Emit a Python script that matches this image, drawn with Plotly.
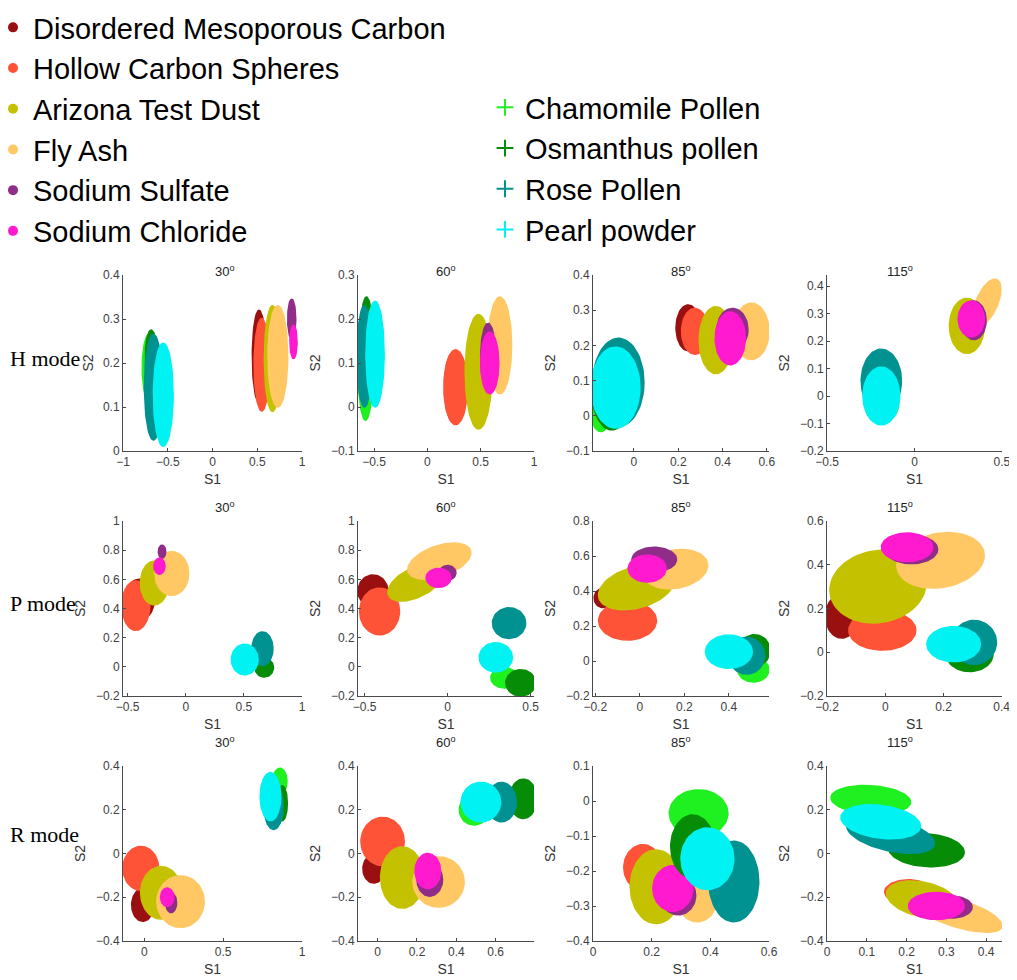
import numpy as np
import plotly.graph_objects as go

# materials in legend / drawing order
materials = ["Disordered Mesoporous Carbon", "Hollow Carbon Spheres", "Arizona Test Dust",
             "Fly Ash", "Sodium Sulfate", "Sodium Chloride",
             "Chamomile Pollen", "Osmanthus pollen", "Rose Pollen", "Pearl powder"]
modes = ["H mode", "P mode", "R mode"]
angles = ["30", "60", "85", "115"]

# cluster centre / half-spread / tilt, one row per panel (H30..H115, P30..P115, R30..R115)
s1_center = [
    [0.52, 0.55, 0.67, 0.73, 0.885, 0.905, -0.71, -0.685, -0.66, -0.55],
    [0.25, 0.265, 0.48, 0.68, 0.57, 0.585, -0.58, -0.57, -0.59, -0.49],
    [0.245, 0.275, 0.37, 0.53, 0.445, 0.435, -0.15, -0.10, -0.07, -0.083],
    [0.27, 0.29, 0.30, 0.415, 0.34, 0.325, -0.12, -0.19, -0.19, -0.19],
    [-0.40, -0.43, -0.27, -0.12, -0.204, -0.226, 0.64, 0.675, 0.66, 0.507],
    [-0.45, -0.41, -0.19, -0.05, 0.0, -0.055, 0.34, 0.44, 0.37, 0.29],
    [-0.165, -0.055, -0.015, 0.16, 0.065, 0.033, 0.51, 0.515, 0.48, 0.40],
    [-0.15, -0.01, -0.025, 0.19, 0.09, 0.075, 0.30, 0.29, 0.305, 0.235],
    [-0.01, -0.022, 0.107, 0.23, 0.17, 0.145, 0.86, 0.875, 0.82, 0.80],
    [-0.02, 0.025, 0.125, 0.31, 0.265, 0.255, 0.49, 0.74, 0.63, 0.525],
    [0.19, 0.17, 0.215, 0.355, 0.29, 0.272, 0.36, 0.34, 0.48, 0.39],
    [0.22, 0.205, 0.24, 0.33, 0.315, 0.275, 0.11, 0.25, 0.16, 0.135],
]
s2_center = [
    [0.215, 0.196, 0.21, 0.215, 0.30, 0.248, 0.19, 0.215, 0.145, 0.128],
    [0.045, 0.045, 0.08, 0.14, 0.115, 0.10, 0.09, 0.15, 0.115, 0.12],
    [0.25, 0.24, 0.215, 0.24, 0.245, 0.22, 0.03, 0.07, 0.095, 0.08],
    [0.25, 0.26, 0.255, 0.34, 0.275, 0.28, -0.02, 0.04, 0.055, 0.0],
    [0.46, 0.42, 0.575, 0.64, 0.79, 0.69, 0.03, -0.005, 0.125, 0.05],
    [0.52, 0.38, 0.58, 0.725, 0.645, 0.61, -0.075, -0.11, 0.30, 0.065],
    [0.36, 0.23, 0.42, 0.525, 0.58, 0.528, -0.05, 0.06, 0.03, 0.053],
    [0.165, 0.10, 0.30, 0.42, 0.47, 0.48, 0.01, -0.01, 0.045, 0.037],
    [-0.235, -0.068, -0.18, -0.22, -0.225, -0.20, 0.33, 0.23, 0.21, 0.26],
    [-0.07, 0.055, -0.11, -0.13, -0.12, -0.08, 0.20, 0.25, 0.235, 0.235],
    [-0.21, -0.19, -0.245, -0.285, -0.27, -0.25, -0.035, -0.13, -0.23, -0.165],
    [-0.20, -0.175, -0.21, -0.275, -0.245, -0.24, 0.245, 0.015, 0.085, 0.145],
]
s1_spread = [
    [0.075, 0.085, 0.09, 0.11, 0.045, 0.04, 0.075, 0.065, 0.10, 0.11],
    [0.09, 0.11, 0.125, 0.11, 0.07, 0.085, 0.07, 0.06, 0.07, 0.085],
    [0.055, 0.06, 0.075, 0.08, 0.07, 0.068, 0.05, 0.09, 0.115, 0.11],
    [0.05, 0.05, 0.10, 0.08, 0.07, 0.075, 0.03, 0.10, 0.115, 0.105],
    [0.13, 0.12, 0.12, 0.145, 0.032, 0.048, 0.06, 0.08, 0.09, 0.115],
    [0.09, 0.12, 0.17, 0.19, 0.05, 0.075, 0.08, 0.09, 0.10, 0.10],
    [0.04, 0.13, 0.17, 0.145, 0.10, 0.085, 0.07, 0.07, 0.08, 0.105],
    [0.055, 0.115, 0.165, 0.15, 0.09, 0.088, 0.06, 0.08, 0.077, 0.092],
    [0.07, 0.113, 0.13, 0.15, 0.035, 0.042, 0.045, 0.032, 0.06, 0.065],
    [0.055, 0.11, 0.11, 0.13, 0.065, 0.065, 0.075, 0.07, 0.075, 0.10],
    [0.05, 0.065, 0.088, 0.065, 0.06, 0.068, 0.10, 0.075, 0.085, 0.09],
    [0.04, 0.06, 0.09, 0.11, 0.05, 0.07, 0.10, 0.095, 0.11, 0.10],
]
s2_spread = [
    [0.105, 0.105, 0.12, 0.115, 0.045, 0.038, 0.075, 0.06, 0.12, 0.117],
    [0.08, 0.085, 0.13, 0.11, 0.075, 0.07, 0.12, 0.10, 0.115, 0.12],
    [0.065, 0.065, 0.095, 0.08, 0.06, 0.075, 0.075, 0.11, 0.125, 0.115],
    [0.05, 0.05, 0.10, 0.07, 0.07, 0.065, 0.05, 0.10, 0.115, 0.105],
    [0.14, 0.17, 0.15, 0.15, 0.045, 0.055, 0.06, 0.065, 0.115, 0.105],
    [0.11, 0.16, 0.11, 0.11, 0.05, 0.065, 0.07, 0.09, 0.105, 0.10],
    [0.055, 0.11, 0.12, 0.11, 0.07, 0.077, 0.07, 0.09, 0.105, 0.095],
    [0.10, 0.09, 0.165, 0.125, 0.065, 0.065, 0.06, 0.078, 0.10, 0.08],
    [0.075, 0.10, 0.12, 0.118, 0.045, 0.042, 0.06, 0.08, 0.10, 0.11],
    [0.065, 0.11, 0.14, 0.115, 0.075, 0.08, 0.07, 0.09, 0.09, 0.09],
    [0.06, 0.065, 0.105, 0.06, 0.055, 0.065, 0.067, 0.09, 0.115, 0.088],
    [0.04, 0.055, 0.08, 0.065, 0.05, 0.062, 0.065, 0.075, 0.075, 0.075],
]
tilt = [
    [0, 0, 0, 0, 0, 0, 0, 0, 0, 0],
    [0, 0, 0, 0, 0, 0, 0, 0, 0, 0],
    [0, 0, 0, 0, 0, 0, 0, 0, 0, 0],
    [0, 0, 0, 0.6, 0, 0, 0, 0, 0, 0],
    [0, 0, 0, 0, 0, 0, 0, 0, 0, 0],
    [0, 0, 0.4, 0.3, 0, 0, 0, 0, 0, 0],
    [0, 0, 0.25, 0.15, 0, 0, 0, 0, 0, 0],
    [0, 0, 0.1, 0.15, 0, 0, 0, 0, 0, 0],
    [0, 0, 0, 0, 0, 0, 0, 0, 0, 0],
    [0, 0, 0, 0, 0, 0, 0, 0, 0, 0],
    [0, 0, 0, 0, 0, 0, 0, 0, 0, 0],
    [0, 0, -0.3, -0.5, 0, 0, -0.1, -0.1, -0.35, -0.2],
]

colors = ["#9a0f0f", "#ff5337", "#c4c200", "#ffc865", "#902d88", "#ff19cf",
          "#1ff01f", "#078c07", "#009191", "#00f2f2"]

W, H = 1017, 980
OFF = 8  # page body margin: the figure is drawn 8px right and down
col_px = [(123, 302), (358, 534), (593, 769), (827, 1002)]
row_px = [(275, 451), (521, 696), (766, 941)]


def fx(px):
    return (px - OFF) / W


def fy(py):
    return 1 - (py - OFF) / H


# x range, x dtick, y range, y dtick per panel
axes_cfg = [
    ([-1.0, 1.0], 0.5, [0, 0.4], 0.1),
    ([-0.65, 1.0], 0.5, [-0.1, 0.3], 0.1),
    ([-0.185, 0.61], 0.2, [-0.1, 0.4], 0.1),
    ([-0.501, 0.501], 0.5, [-0.2, 0.44], 0.1),
    ([-0.54, 1.0], 0.5, [-0.2, 1.0], 0.2),
    ([-0.54, 0.52], 0.5, [-0.2, 1.0], 0.2),
    ([-0.21, 0.58], 0.2, [-0.2, 0.8], 0.2),
    ([-0.2, 0.401], 0.2, [-0.2, 0.6], 0.2),
    ([-0.135, 1.0], 0.5, [-0.4, 0.4], 0.2),
    ([-0.1, 0.795], 0.2, [-0.4, 0.4], 0.2),
    ([0, 0.6], 0.2, [-0.4, 0.1], 0.1),
    ([0, 0.44], 0.1, [-0.4, 0.4], 0.2),
]

axis_color = "#4a4a4a"
tick_font = dict(family="Liberation Sans, Arial", size=12, color="#404040")
label_font = dict(family="Liberation Sans, Arial", size=14, color="#333")

fig = go.Figure()
t = np.linspace(0, 2 * np.pi, 73)

for p in range(12):
    n = p + 1
    xa = "x" if n == 1 else f"x{n}"
    ya = "y" if n == 1 else f"y{n}"
    for m in range(len(materials)):
        cx, cy = s1_center[p][m], s2_center[p][m]
        rx, ry, k = s1_spread[p][m], s2_spread[p][m], tilt[p][m]
        fig.add_trace(go.Scatter(
            x=cx + rx * np.cos(t),
            y=cy + ry * np.sin(t) + k * rx * np.cos(t),
            mode="lines", fill="toself", fillcolor=colors[m],
            line=dict(color=colors[m], width=1.5),
            xaxis=xa, yaxis=ya, showlegend=False, hoverinfo="skip",
            name=materials[m]))

# legend entries
for m in range(len(materials)):
    pollen = m >= 6
    fig.add_trace(go.Scatter(
        x=[None], y=[None], mode="markers", name=materials[m],
        legend="legend2" if pollen else "legend",
        marker=dict(color=colors[m], size=12 if pollen else 10,
                    symbol="cross-thin" if pollen else "circle",
                    line=dict(color=colors[m], width=2 if pollen else 0))))

annotations = []
layout_axes = {}
for p in range(12):
    n = p + 1
    r, c = divmod(p, 4)
    x0, x1 = col_px[c]
    y0, y1 = row_px[r]
    xr, xd, yr, yd = axes_cfg[p]
    xkey = "xaxis" if n == 1 else f"xaxis{n}"
    ykey = "yaxis" if n == 1 else f"yaxis{n}"
    common = dict(showline=True, linecolor=axis_color, linewidth=1, mirror=False,
                  ticks="inside", ticklen=3, tickcolor=axis_color,
                  showgrid=False, zeroline=False, tickfont=tick_font)
    layout_axes[xkey] = dict(common, domain=[fx(x0), fx(x1)], range=xr, dtick=xd, tick0=0,
                             anchor="y" if n == 1 else f"y{n}",
                             title=dict(text="S1", standoff=5, font=label_font))
    layout_axes[ykey] = dict(common, domain=[fy(y1), fy(y0)], range=yr, dtick=yd, tick0=0,
                             anchor="x" if n == 1 else f"x{n}",
                             title=dict(text="S2", standoff=6, font=label_font))
    annotations.append(dict(text=f"{angles[c]}<sup>o</sup>", x=fx((x0 + x1) / 2), y=fy(y0 - 14),
                            xref="paper", yref="paper", showarrow=False,
                            font=dict(family="Liberation Sans, Arial", size=13, color="#222")))

for r in range(3):
    y0, y1 = row_px[r]
    annotations.append(dict(text=modes[r], x=fx(8), y=fy((y0 + y1) / 2 - 5),
                            xref="paper", yref="paper", xanchor="left", showarrow=False,
                            font=dict(family="Liberation Serif, Times New Roman", size=22, color="black")))

legend_font = dict(family="Liberation Sans, Arial", size=29, color="black")
fig.update_layout(
    width=W, height=H,
    margin=dict(l=0, r=0, t=0, b=0, autoexpand=False),
    plot_bgcolor="white", paper_bgcolor="white",
    annotations=annotations,
    legend=dict(x=-15 / W, y=1 + 6 / H, xanchor="left", yanchor="top",
                font=legend_font, bgcolor="rgba(0,0,0,0)", itemclick=False),
    legend2=dict(x=477 / W, y=1 - 74 / H, xanchor="left", yanchor="top",
                 font=legend_font, bgcolor="rgba(0,0,0,0)", itemclick=False),
    **layout_axes,
)

fig.write_html("out.html")
